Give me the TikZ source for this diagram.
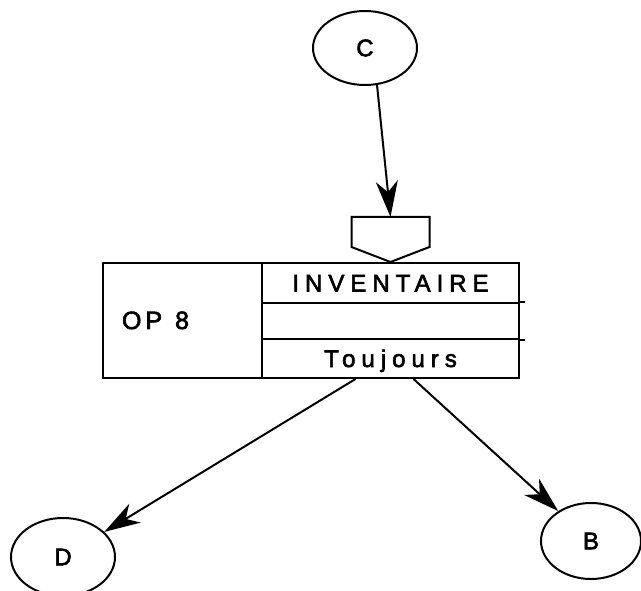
\documentclass[tikz,border=0pt]{standalone}
\usepackage{fontspec}
\setmainfont{Liberation Sans}
\newfontfamily\lbl[LetterSpace=25,Scale=2.4,FakeBold=2.5]{Liberation Sans}
\newfontfamily\lblop[Scale=2.5,FakeBold=2.5]{Liberation Sans}
\usetikzlibrary{shapes.geometric,arrows.meta}

\begin{document}
\begin{tikzpicture}[x=1pt,y=-1pt,line width=2pt,
	etat/.style={draw,ellipse,inner sep=0pt,font=\lbl},
	case/.style={draw,rectangle,inner sep=0pt,anchor=north west,text height=17pt,text depth=0pt,font=\lbl},
	fl/.style={-{Stealth[length=36pt,width=22pt,inset=11pt]}}]
		\useasboundingbox (0,0) rectangle (641,591);
		\node[etat,minimum width=104pt,minimum height=74pt] (C) at (365,48) {C};
		\node[etat,minimum width=104pt,minimum height=78pt] (D) at (63,557) {D};
		\node[etat,minimum width=100pt,minimum height=76pt] (B) at (591,541) {B};
		\node[case,minimum height=115pt,text width=121pt,inner xsep=19pt,align=left,font=\lblop] (op) at (102,262) {O\kern4pt P\kern13pt 8};
		\node[case,minimum width=257pt,minimum height=40pt] (inv) at (261,262) {INVENTAIRE};
		\node[case,minimum width=257pt,minimum height=36pt] (vide) at (261,302) {};
		\node[case,minimum width=257pt,minimum height=39pt] (tj) at (261,338) {Toujours};
		\draw (vide.north east) -- ++(5,0);
		\draw (vide.south east) -- ++(5,0);
		\draw (inv.north) -- ++(-39,-15) -- ++(0,-30) -- ++(39,0) coordinate (entree) -- ++(39,0) -- ++(0,30) -- cycle;
		\draw[fl] (C.288) -- (entree);
		\draw[fl] ([xshift=-35pt]tj.south) -- (D);
		\draw[fl] ([xshift=23pt]tj.south) -- (B);
\end{tikzpicture}
\end{document}
